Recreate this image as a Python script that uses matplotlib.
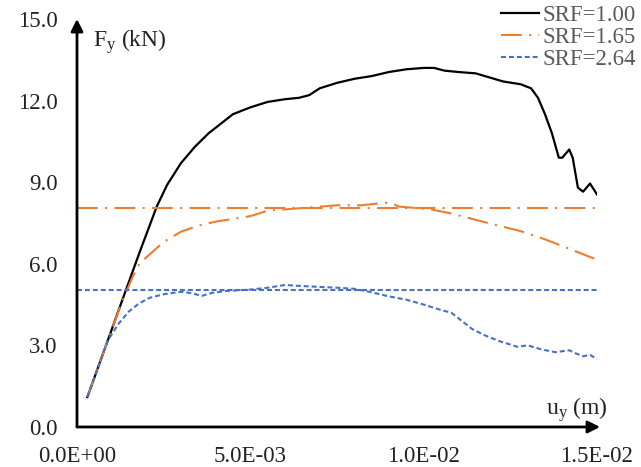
import matplotlib.pyplot as plt

plt.rcParams['font.family'] = ['Liberation Serif', 'DejaVu Serif']
plt.rcParams['mathtext.default'] = 'regular'

# SRF = 1.00
x_srf100 = [0.0003, 0.0008, 0.0013, 0.0018, 0.0023, 0.0026, 0.0030, 0.0034, 0.0038, 0.0042,
            0.0045, 0.0050, 0.0055, 0.0060, 0.0064, 0.0067, 0.0070, 0.0075, 0.0080, 0.0085,
            0.0090, 0.0095, 0.0100, 0.0103, 0.0106, 0.0110, 0.0115, 0.0119, 0.0123, 0.0128,
            0.0131, 0.0133, 0.0135, 0.0137, 0.0139, 0.0140, 0.0142, 0.0143, 0.01445, 0.0146,
            0.0148, 0.0150]
y_srf100 = [1.1, 2.87, 4.64, 6.4, 8.1, 8.9, 9.7, 10.3, 10.8, 11.2,
            11.5, 11.75, 11.95, 12.05, 12.1, 12.2, 12.45, 12.65, 12.8, 12.9,
            13.05, 13.15, 13.2, 13.2, 13.1, 13.05, 13.0, 12.85, 12.7, 12.6,
            12.45, 12.1, 11.5, 10.8, 9.9, 9.9, 10.2, 9.9, 8.8, 8.65,
            8.95, 8.55]

# SRF = 1.65
x_srf165 = [0.0003, 0.0008, 0.0013, 0.0016, 0.0018, 0.0021, 0.0025, 0.0030, 0.0035, 0.0040,
            0.0045, 0.0050, 0.0055, 0.0060, 0.0065, 0.0070, 0.0075, 0.0082, 0.0087, 0.0090,
            0.0093, 0.0098, 0.0102, 0.0108, 0.0114, 0.0120, 0.0128, 0.0135, 0.0142, 0.0150]
y_srf165 = [1.1, 2.87, 4.6, 5.5, 6.0, 6.35, 6.8, 7.18, 7.4, 7.55,
            7.65, 7.75, 7.95, 8.0, 8.05, 8.1, 8.15, 8.15, 8.22, 8.25,
            8.1, 8.05, 8.0, 7.85, 7.65, 7.45, 7.2, 6.9, 6.55, 6.15]

# SRF = 2.64
x_srf264 = [0.0003, 0.0008, 0.0009, 0.0012, 0.0015, 0.0018, 0.0021, 0.0025, 0.0030, 0.0033,
            0.0036, 0.0039, 0.0043, 0.0050, 0.0055, 0.0060, 0.0065, 0.0070, 0.0075, 0.0080,
            0.0085, 0.0090, 0.0095, 0.0100, 0.0105, 0.0108, 0.0111, 0.0114, 0.0118, 0.0122,
            0.0127, 0.0130, 0.0134, 0.0138, 0.0142, 0.0144, 0.0146, 0.0148, 0.0150]
y_srf264 = [1.1, 2.87, 3.2, 3.8, 4.25, 4.55, 4.75, 4.88, 4.97, 4.92,
            4.82, 4.93, 5.0, 5.05, 5.12, 5.22, 5.18, 5.15, 5.12, 5.08,
            4.95, 4.8, 4.68, 4.5, 4.3, 4.2, 3.9, 3.6, 3.35, 3.15,
            2.95, 3.0, 2.85, 2.75, 2.82, 2.7, 2.6, 2.65, 2.5]

# plateau levels
level_165 = 8.05
level_264 = 5.05

labels = ['SRF=1.00', 'SRF=1.65', 'SRF=2.64']
xticks = [0.0, 0.005, 0.01, 0.015]
xticklabels = ['0.0E+00', '5.0E-03', '1.0E-02', '1.5E-02']
yticks = [0, 3, 6, 9, 12, 15]
yticklabels = ['0.0', '3.0', '6.0', '9.0', '12.0', '15.0']

orange = '#ED7D31'
blue = '#4472C4'

fig = plt.figure(figsize=(6.41, 4.67), dpi=100, facecolor='white')
ax = fig.add_axes([0.1201, 0.0857, 0.8112, 0.8737])

ax.plot(x_srf100, y_srf100, color='black', lw=1.6, label=labels[0])
ax.plot(x_srf165, y_srf165, color=orange, lw=1.5, dashes=(10, 3.5, 1, 3.5), label=labels[1])
ax.plot(x_srf264, y_srf264, color=blue, lw=1.5, dashes=(2.4, 1.4), label=labels[2])
ax.plot([xticks[0], xticks[-1]], [level_165, level_165], color=orange, lw=1.5,
        dashes=(10, 3.5, 1, 3.5))
ax.plot([xticks[0], xticks[-1]], [level_264, level_264], color=blue, lw=1.5,
        dashes=(2.4, 1.4))

ax.set_xlim(xticks[0], xticks[-1])
ax.set_ylim(yticks[0], yticks[-1])
ax.set_xticks(xticks)
ax.set_xticklabels(xticklabels)
ax.set_yticks(yticks)
ax.set_yticklabels(yticklabels)
ax.tick_params(length=0, labelsize=16.5, colors='#222222', pad=14)
for s in ax.spines.values():
    s.set_visible(False)

# arrow axes
arrow = dict(arrowstyle='-|>', lw=2, color='black', mutation_scale=18, shrinkA=0, shrinkB=0)
ax.annotate('', xy=(0, 1.0), xytext=(0, 0), xycoords='axes fraction', arrowprops=arrow)
ax.annotate('', xy=(1.006, 0), xytext=(0, 0), xycoords='axes fraction', arrowprops=arrow)

ax.text(0.031, 0.944, r'F$_{\mathregular{y}}$ (kN)', transform=ax.transAxes,
        ha='left', va='center', fontsize=17, color='#222222')
ax.text(1.021, 0.042, r'u$_{\mathregular{y}}$ (m)', transform=ax.transAxes,
        ha='right', va='center', fontsize=17, color='#222222')

leg = ax.legend(loc='upper right', bbox_to_anchor=(1.0, 1.0), bbox_transform=fig.transFigure,
                frameon=False, fontsize=16.5, handlelength=1.7, handletextpad=0.15,
                labelspacing=0.05, borderpad=0.1, borderaxespad=0.1)
for t in leg.get_texts():
    t.set_color('#595959')

fig.savefig('out.png', dpi=100, facecolor='white')
